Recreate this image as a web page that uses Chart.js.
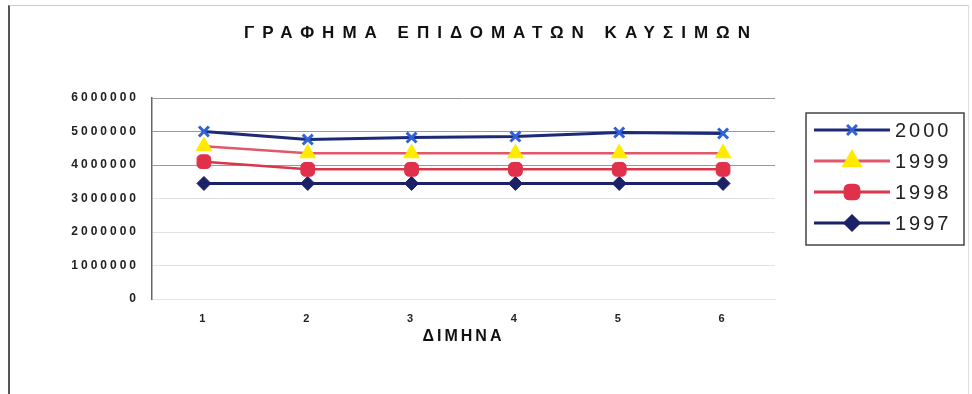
<!DOCTYPE html>
<html>
<head>
<meta charset="utf-8">
<script src="https://cdn.jsdelivr.net/npm/chart.js@4"></script>
<style>
  html, body { margin: 0; padding: 0; background: #fff; }
  #wrap { position: relative; width: 972px; height: 394px; }
  #frame { position: absolute; left: 8px; top: 5px; width: 958px; height: 400px;
           border-left: 2px solid #555; border-top: 1px solid #ccc; border-right: 1px solid #ddd;
           pointer-events: none; }
</style>
</head>
<body>
<div id="wrap">
  <canvas class="fuel-chart" width="972" height="394"></canvas>
  <div id="frame"></div>
</div>
<script>
const months = ["1", "2", "3", "4", "5", "6"];
const years = ["2000", "1999", "1998", "1997"];
const y2000 = [5000000, 4760000, 4820000, 4850000, 4970000, 4940000];
const y1999 = [4560000, 4350000, 4350000, 4350000, 4350000, 4350000];
const y1998 = [4100000, 3870000, 3870000, 3870000, 3870000, 3870000];
const y1997 = [3450000, 3450000, 3450000, 3450000, 3450000, 3450000];
const yTicks = [0, 1000000, 2000000, 3000000, 4000000, 5000000, 6000000];

const title = "ΓΡΑΦΗΜΑ ΕΠΙΔΟΜΑΤΩΝ ΚΑΥΣΙΜΩΝ";
const xTitle = "ΔΙΜΗΝΑ";

const ctx = document.querySelector(".fuel-chart");

// title, legend box and letter spacing (old Excel look)
const extras = {
  id: "extras",
  beforeDraw(chart) {
    chart.ctx.letterSpacing = "3px";
  },
  afterDraw(chart) {
    const c = chart.ctx;
    c.save();
    c.fillStyle = "#111";
    c.letterSpacing = "8px";
    c.font = "bold 17px 'Liberation Sans', Arial, sans-serif";
    c.textAlign = "center";
    c.textBaseline = "middle";
    c.fillText(title, 501, 33);

    // legend
    c.letterSpacing = "3px";
    c.strokeStyle = "#444";
    c.lineWidth = 1.5;
    c.strokeRect(806, 113, 158, 132);
    chart.data.datasets.forEach((ds, i) => {
      const y = 130 + i * 31;
      c.strokeStyle = ds.borderColor;
      c.lineWidth = 3;
      c.beginPath();
      c.moveTo(814, y);
      c.lineTo(890, y);
      c.stroke();
      c.fillStyle = ds.pointBackgroundColor;
      c.strokeStyle = ds.pointBorderColor;
      Chart.helpers.drawPoint(c, {
        pointStyle: ds.pointStyle,
        radius: ds.pointRadius,
        borderWidth: ds.pointBorderWidth,
        rotation: 0
      }, 852, y);
      c.fillStyle = "#222";
      c.font = "20px 'Liberation Sans', Arial, sans-serif";
      c.textAlign = "left";
      c.fillText(ds.label, 895, y + 1);
    });
    c.restore();
    c.letterSpacing = "0px";
  }
};

new Chart(ctx, {
  type: "line",
  data: {
    labels: months,
    datasets: [
      {
        label: years[0],
        data: y2000,
        borderColor: "#1c2a78",
        borderWidth: 3,
        pointStyle: "crossRot",
        pointRadius: 7,
        pointBorderWidth: 3,
        pointBackgroundColor: "#2e62d6",
        pointBorderColor: "#2e62d6"
      },
      {
        label: years[1],
        data: y1999,
        borderColor: "#e0586a",
        borderWidth: 2.5,
        pointStyle: "triangle",
        pointRadius: 9,
        pointBorderWidth: 1,
        pointBackgroundColor: "#ffea00",
        pointBorderColor: "#ffea00"
      },
      {
        label: years[2],
        data: y1998,
        borderColor: "#d9364a",
        borderWidth: 2.5,
        pointStyle: "rectRounded",
        pointRadius: 8,
        pointBorderWidth: 1,
        pointBackgroundColor: "#e0304a",
        pointBorderColor: "#e0304a"
      },
      {
        label: years[3],
        data: y1997,
        borderColor: "#1b2268",
        borderWidth: 3,
        pointStyle: "rectRot",
        pointRadius: 7,
        pointBorderWidth: 1,
        pointBackgroundColor: "#1b2268",
        pointBorderColor: "#1b2268"
      }
    ]
  },
  options: {
    responsive: false,
    animation: false,
    layout: { padding: { top: 98, right: 197, bottom: 48, left: 0 } },
    plugins: {
      legend: { display: false },
      title: { display: false },
      tooltip: { enabled: false }
    },
    scales: {
      x: {
        offset: true,
        afterFit(scale) { scale.height = 47; },
        grid: { display: false, drawTicks: false },
        border: { color: "#e4e4e4" },
        ticks: {
          padding: 13,
          color: "#222",
          font: { family: "'Liberation Sans', Arial, sans-serif", size: 11, weight: "bold" }
        },
        title: {
          display: true,
          text: xTitle,
          color: "#111",
          padding: { top: 0, bottom: 0 },
          font: { family: "'Liberation Sans', Arial, sans-serif", size: 16, weight: "bold" }
        }
      },
      y: {
        min: 0,
        max: 6000000,
        afterFit(scale) { scale.width = 152; },
        afterBuildTicks(scale) { scale.ticks = yTicks.map(v => ({ value: v })); },
        grid: {
          drawTicks: false,
          color: c => (c.tick && c.tick.value >= 4000000 ? "#999" : "#e2e2e2")
        },
        border: { color: "#666", width: 1.5 },
        ticks: {
          padding: 13,
          color: "#222",
          font: { family: "'Liberation Sans', Arial, sans-serif", size: 12, weight: "bold" },
          callback: v => String(v)
        }
      }
    }
  },
  plugins: [extras]
});
</script>
</body>
</html>
